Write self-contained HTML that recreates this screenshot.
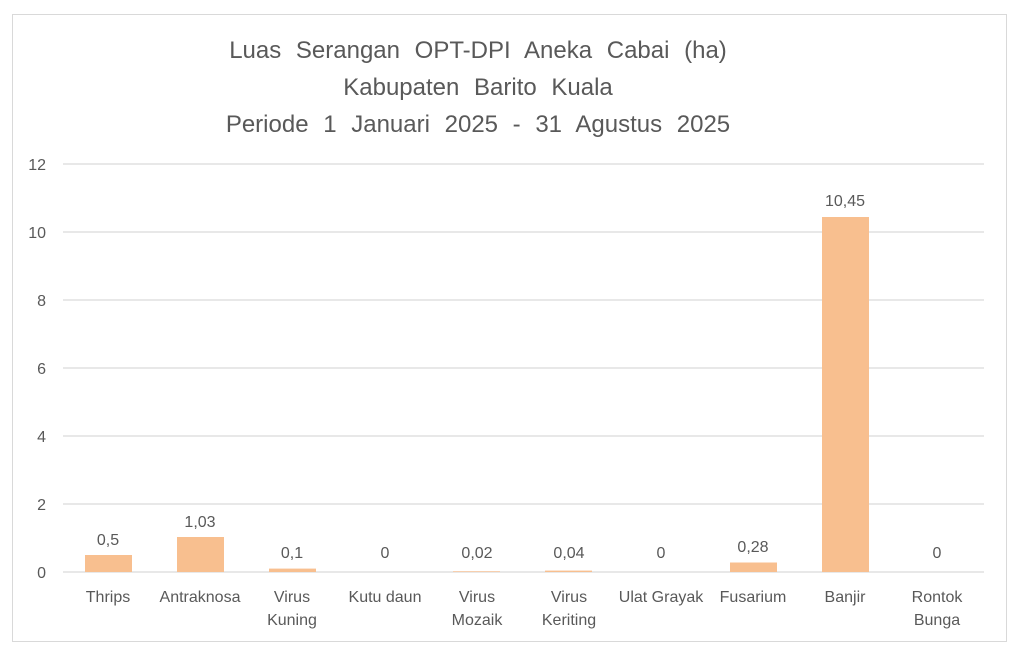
<!DOCTYPE html>
<html><head><meta charset="utf-8"><style>
html,body{margin:0;padding:0;background:#fff;}
svg{display:block;font-family:"Liberation Sans",sans-serif;}
</style></head><body>
<svg width="1022" height="653" viewBox="0 0 1022 653" xmlns="http://www.w3.org/2000/svg">
<rect x="0" y="0" width="1022" height="653" fill="#fff"/>
<rect x="12.5" y="14.5" width="994" height="627" fill="#fff" stroke="#d9d9d9" stroke-width="1"/>
<g fill="#595959" font-size="24" text-anchor="middle" word-spacing="8">
<text x="478" y="58">Luas Serangan OPT-DPI Aneka Cabai (ha)</text>
<text x="478" y="95">Kabupaten Barito Kuala</text>
<text x="478" y="132">Periode 1 Januari 2025 - 31 Agustus 2025</text>
</g>
<g stroke="#d9d9d9" stroke-width="1.3">
<line x1="63" x2="984" y1="164" y2="164"/>
<line x1="63" x2="984" y1="232" y2="232"/>
<line x1="63" x2="984" y1="300" y2="300"/>
<line x1="63" x2="984" y1="368" y2="368"/>
<line x1="63" x2="984" y1="436" y2="436"/>
<line x1="63" x2="984" y1="504" y2="504"/>
<line x1="63" x2="984" y1="572" y2="572"/>
</g>
<g fill="#595959" font-size="16" text-anchor="end">
<text x="46" y="170">12</text><text x="46" y="238">10</text><text x="46" y="306">8</text>
<text x="46" y="374">6</text><text x="46" y="442">4</text><text x="46" y="510">2</text><text x="46" y="578">0</text>
</g>
<g fill="#f8bf8f">
<rect x="85" y="555" width="47" height="17"/>
<rect x="177" y="537" width="47" height="35"/>
<rect x="269" y="568.6" width="47" height="3.4"/>
<rect x="453" y="571.3" width="47" height="0.7"/>
<rect x="545" y="570.6" width="47" height="1.4"/>
<rect x="730" y="562.5" width="47" height="9.5"/>
<rect x="822" y="217" width="47" height="355"/>
</g>
<g fill="#595959" font-size="16" text-anchor="middle">
<text x="108" y="545">0,5</text>
<text x="200" y="527">1,03</text>
<text x="292" y="558">0,1</text>
<text x="385" y="558">0</text>
<text x="477" y="558">0,02</text>
<text x="569" y="558">0,04</text>
<text x="661" y="558">0</text>
<text x="753" y="552">0,28</text>
<text x="845" y="206">10,45</text>
<text x="937" y="558">0</text>
</g>
<g fill="#595959" font-size="16" text-anchor="middle">
<text x="108" y="602">Thrips</text>
<text x="200" y="602">Antraknosa</text>
<text x="292" y="602">Virus</text><text x="292" y="625">Kuning</text>
<text x="385" y="602">Kutu daun</text>
<text x="477" y="602">Virus</text><text x="477" y="625">Mozaik</text>
<text x="569" y="602">Virus</text><text x="569" y="625">Keriting</text>
<text x="661" y="602">Ulat Grayak</text>
<text x="753" y="602">Fusarium</text>
<text x="845" y="602">Banjir</text>
<text x="937" y="602">Rontok</text><text x="937" y="625">Bunga</text>
</g>
</svg>
</body></html>
